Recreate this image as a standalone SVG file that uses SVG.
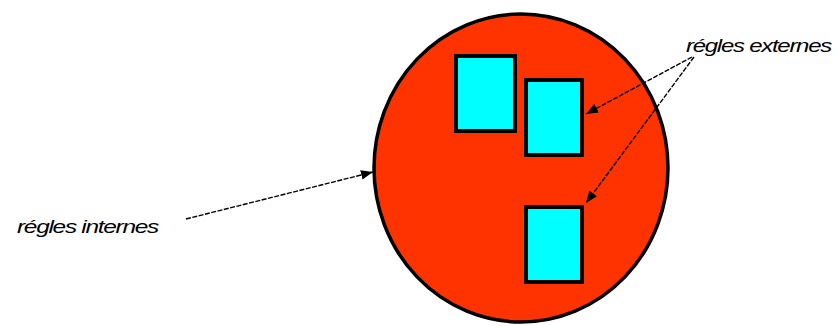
<svg xmlns="http://www.w3.org/2000/svg" width="837" height="326" viewBox="0 0 837 326">
<defs>
<style>
.box{fill:#00FFFF;stroke:#000;stroke-width:4}
.lbl{font-family:"Liberation Sans",Arial,sans-serif;font-style:italic;font-size:19px;fill:#000;letter-spacing:-1px}
.con{stroke:#000;stroke-width:1.4;fill:none;stroke-dasharray:5 1.5}
</style>
<marker id="ah" viewBox="0 0 10 10" refX="10" refY="5" markerWidth="12" markerHeight="12" markerUnits="userSpaceOnUse" orient="auto">
<path d="M0,1 L10,5 L0,9 z" fill="#000"/>
</marker>
</defs>
<rect width="837" height="326" fill="#fff"/>
<g id="cellule">
<ellipse cx="521" cy="168" rx="147" ry="154" fill="#FF3300" stroke="#000" stroke-width="3.5"/>
</g>
<g id="box1"><rect class="box" x="456" y="56" width="59" height="75"/></g>
<g id="box2"><rect class="box" x="526" y="80" width="56" height="75"/></g>
<g id="box3"><rect class="box" x="526" y="207" width="56" height="75"/></g>
<g id="label-internes"><text class="lbl" x="17" y="233" textLength="141" lengthAdjust="spacingAndGlyphs">régles internes</text></g>
<g id="label-externes"><text class="lbl" x="686" y="52" textLength="145" lengthAdjust="spacingAndGlyphs">régles externes</text></g>
<g id="connectors">
<line class="con" x1="186" y1="219" x2="373" y2="172" marker-end="url(#ah)"/>
<line class="con" x1="692" y1="57" x2="586" y2="114" marker-end="url(#ah)"/>
<line class="con" x1="694" y1="57" x2="586" y2="203" marker-end="url(#ah)"/>
</g>
</svg>
